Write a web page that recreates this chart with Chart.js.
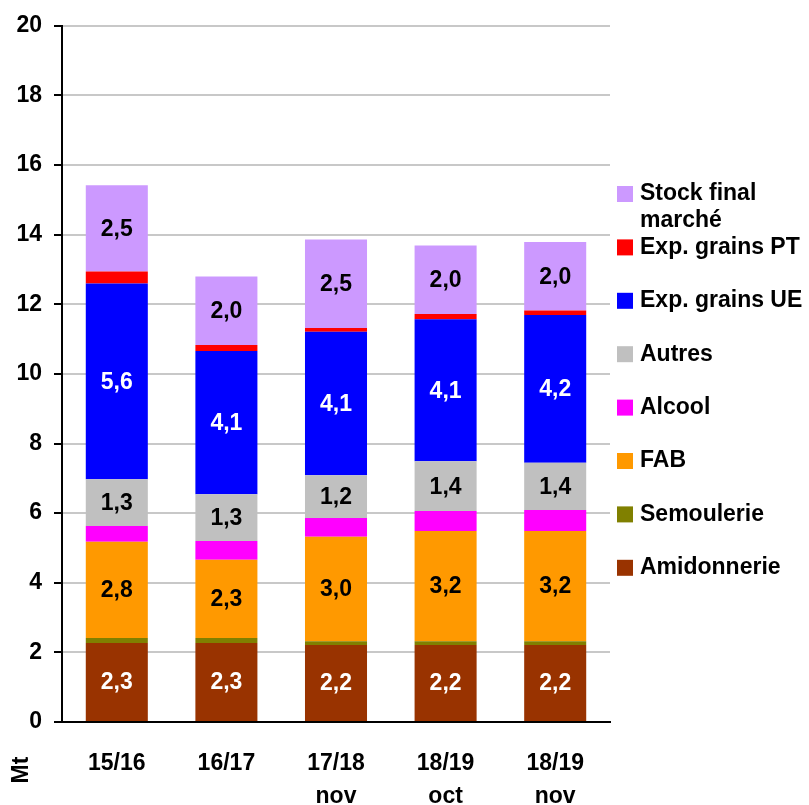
<!DOCTYPE html>
<html>
<head>
<meta charset="utf-8">
<script src="https://cdn.jsdelivr.net/npm/chart.js@4.4.0/dist/chart.umd.min.js"></script>
<style>
  html, body { margin: 0; padding: 0; background: #fff; }
  #wrap { position: relative; width: 809px; height: 805px; }
</style>
</head>
<body>
<div id="wrap"><canvas id="chart1"></canvas></div>
<script>
// campaigns (x categories)
const campagnes = [['15/16'], ['16/17'], ['17/18', 'nov'], ['18/19', 'oct'], ['18/19', 'nov']]

// uses, in Mt (bottom of stack first)
const amidonnerie = [2.27, 2.27, 2.21, 2.21, 2.21]
const semoulerie  = [0.14, 0.14, 0.11, 0.11, 0.11]
const fab         = [2.77, 2.25, 3.00, 3.17, 3.17]
const alcool      = [0.45, 0.54, 0.54, 0.57, 0.60]
const autres      = [1.34, 1.34, 1.23, 1.43, 1.36]
const expUE       = [5.63, 4.12, 4.12, 4.08, 4.24]
const expPT       = [0.34, 0.17, 0.11, 0.15, 0.13]
const stockFinal  = [2.48, 1.97, 2.54, 1.97, 1.97]

const yTicks = [0, 2, 4, 6, 8, 10, 12, 14, 16, 18, 20]

const FONT = '"Liberation Sans", Arial, sans-serif'

// value labels inside bars
const barLabels = {
  id: 'barLabels',
  afterDatasetsDraw(chart) {
    const ctx = chart.ctx
    ctx.save()
    ctx.font = 'bold 23px ' + FONT
    ctx.textAlign = 'center'
    ctx.textBaseline = 'middle'
    chart.data.datasets.forEach((ds, i) => {
      if (!ds.showValue) return
      const meta = chart.getDatasetMeta(i)
      meta.data.forEach((bar, j) => {
        const txt = ds.data[j].toFixed(1).replace('.', ',')
        ctx.fillStyle = ds.valueColor
        ctx.fillText(txt, bar.x, (bar.y + bar.base) / 2 + 1)
      })
    })
    ctx.restore()
  }
}

// legend on the right, reversed order, multi-line text
const sideLegend = {
  id: 'sideLegend',
  afterDraw(chart) {
    const ctx = chart.ctx
    const x0 = chart.chartArea.right + 7
    ctx.save()
    ctx.font = 'bold 23px ' + FONT
    ctx.textBaseline = 'middle'
    ctx.textAlign = 'left'
    const sets = chart.data.datasets.slice().reverse()
    sets.forEach((ds, k) => {
      const yc = 194 + k * 53.4
      ctx.fillStyle = ds.backgroundColor
      ctx.fillRect(x0, yc - 8, 16, 16)
      ctx.fillStyle = '#000'
      const lines = Array.isArray(ds.label) ? ds.label : [ds.label]
      lines.forEach((l, n) => ctx.fillText(l, x0 + 23, yc + n * 27))
    })
    ctx.restore()
  }
}

// rotated unit title under the y axis
const unitTitle = {
  id: 'unitTitle',
  afterDraw(chart) {
    const ctx = chart.ctx
    ctx.save()
    ctx.translate(22, 770)
    ctx.rotate(-Math.PI / 2)
    ctx.font = 'bold 23px ' + FONT
    ctx.fillStyle = '#000'
    ctx.textAlign = 'center'
    ctx.textBaseline = 'middle'
    ctx.fillText('Mt', 0, 0)
    ctx.restore()
  }
}

function ds(label, data, color, showValue, valueColor) {
  return {
    label: label,
    data: data,
    backgroundColor: color,
    borderWidth: 0,
    barPercentage: 0.566,
    categoryPercentage: 1.0,
    showValue: showValue,
    valueColor: valueColor
  }
}

const ctx1 = document.getElementById('chart1').getContext('2d')
const chart1 = new Chart(ctx1, {
  type: 'bar',
  data: {
    labels: campagnes,
    datasets: [
      ds('Amidonnerie', amidonnerie, '#993300', true, '#fff'),
      ds('Semoulerie', semoulerie, '#808000', false),
      ds('FAB', fab, '#FF9900', true, '#000'),
      ds('Alcool', alcool, '#FF00FF', false),
      ds('Autres', autres, '#C0C0C0', true, '#000'),
      ds('Exp. grains UE', expUE, '#0000FF', true, '#fff'),
      ds('Exp. grains PT', expPT, '#FF0000', false),
      ds(['Stock final', 'marché'], stockFinal, '#CC99FF', true, '#000')
    ]
  },
  options: {
    responsive: true,
    maintainAspectRatio: false,
    animation: false,
    layout: { padding: { top: 12, right: 199, left: 0, bottom: 0 } },
    scales: {
      x: {
        stacked: true,
        grid: { display: false },
        border: { color: '#000', width: 2 },
        ticks: {
          color: '#000',
          font: { family: FONT, size: 23, weight: 'bold', lineHeight: 1.4 },
          padding: 18,
          maxRotation: 0
        },
        afterFit(scale) { scale.height = 83 }
      },
      y: {
        stacked: true,
        min: 0,
        max: 20,
        afterBuildTicks(scale) { scale.ticks = yTicks.map(v => ({ value: v })) },
        grid: {
          color: '#c8c8c8',
          lineWidth: 2,
          drawTicks: true,
          tickLength: 8,
          tickColor: '#000'
        },
        border: { color: '#000', width: 2 },
        ticks: {
          color: '#000',
          font: { family: FONT, size: 23, weight: 'bold' },
          padding: 12
        },
        afterFit(scale) { scale.width = 62 }
      }
    },
    plugins: {
      legend: { display: false },
      tooltip: { enabled: false },
      title: { display: false }
    }
  },
  plugins: [barLabels, sideLegend, unitTitle]
})
</script>
</body>
</html>
